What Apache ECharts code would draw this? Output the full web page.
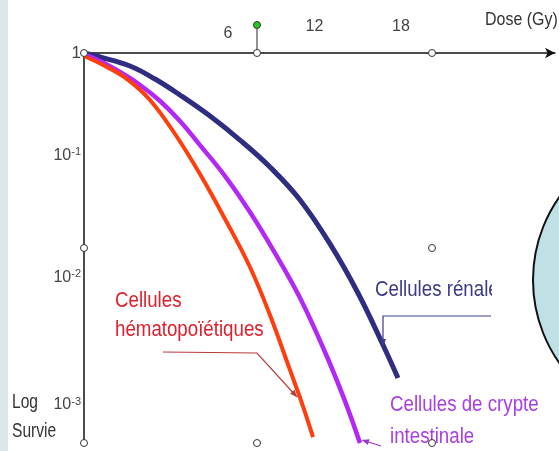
<!DOCTYPE html>
<html><head><meta charset="utf-8">
<script src="https://cdn.jsdelivr.net/npm/echarts@6/dist/echarts.min.js"></script>
<style>html,body{margin:0;padding:0;background:#fff}#c{width:559px;height:451px}</style>
</head><body><div id="c"></div>
<script>
// Dose (Gy) and survival fraction
const doseHemato   = [-4.00, -2.54, -1.01, 0.58, 2.32, 4.05, 5.79, 7.52, 8.91, 10.30, 11.20, 11.90];
const survieHemato = [0.943, 0.775, 0.600, 0.398, 0.204, 0.0930, 0.0385, 0.0150, 0.00585, 0.00199, 0.000980, 0.000533];
const doseCrypte   = [-4.00, -2.89, -1.50, -0.11, 1.28, 2.66, 4.05, 5.79, 7.52, 9.26, 11.00, 12.73, 14.12, 15.16];
const survieCrypte = [0.980, 0.855, 0.689, 0.534, 0.390, 0.263, 0.164, 0.0894, 0.0441, 0.0197, 0.00816, 0.00283, 0.00108, 0.000474];
const doseRenale   = [-4.00, -2.89, -0.81, 0.93, 2.66, 4.75, 6.83, 8.91, 11.00, 13.08, 15.02, 16.76, 17.80];
const survieRenale = [1, 0.924, 0.775, 0.600, 0.439, 0.290, 0.181, 0.1067, 0.0559, 0.0236, 0.00901, 0.00325, 0.00170];

const xTicks = [6, 12, 18];
const xTickLabels = ['6', '12', '18'];
const yTicks = [1, 0.1, 0.01, 0.001];
const yTickLabels = [['1', ''], ['10', '-1'], ['10', '-2'], ['10', '-3']];

const xName = 'Dose (Gy)';
const yName = ['Log', 'Survie'];
const labelHemato = ['Cellules', 'hématopoïétiques'];
const labelRenale = ['Cellules rénale'];
const labelCrypte = ['Cellules de crypte', 'intestinale'];

const pairs = (a, b) => a.map((v, i) => [v, b[i]]);
const FONT = '"Liberation Sans", Arial, sans-serif';
const NARROW = '"Liberation Sans Narrow", "Arial Narrow", "Liberation Sans", Arial, sans-serif';

function txt(s, x, y, size, sx, color) {
  return {type: 'text', x: x, y: y, scaleX: sx, z: 20,
    style: {text: s, fill: color, fontSize: size, fontFamily: FONT, align: 'left', verticalAlign: 'middle'}};
}
function leader(pts, color) {
  const n = pts.length, a = pts[n - 2], b = pts[n - 1];
  const ang = Math.atan2(b[1] - a[1], b[0] - a[0]);
  const L = 7, W = 3;
  const bx = b[0] - L * Math.cos(ang), by = b[1] - L * Math.sin(ang);
  const px = -Math.sin(ang) * W, py = Math.cos(ang) * W;
  return [
    {type: 'polyline', z: 15, shape: {points: pts}, style: {stroke: color, lineWidth: 1.2, fill: null}},
    {type: 'polygon', z: 15, shape: {points: [b, [bx + px, by + py], [bx - px, by - py]]}, style: {fill: color}}
  ];
}
function handle(x, y) {
  return {type: 'circle', z: 30, shape: {cx: x, cy: y, r: 3.5}, style: {fill: '#fff', stroke: '#333', lineWidth: 1}};
}

const chart = echarts.init(document.getElementById('c'));
chart.setOption({
  animation: false,
  backgroundColor: '#fff',
  grid: {left: 84, right: 4, top: 53, bottom: 4.93, containLabel: false, outerBoundsMode: 'none'},
  xAxis: {
    type: 'value', position: 'top', min: -4, max: 28.7, interval: 2,
    axisLine: {onZero: false, lineStyle: {color: '#111', width: 1.5}, symbol: ['none', 'arrow'], symbolSize: [8, 10]},
    axisTick: {show: false}, splitLine: {show: false},
    axisLabel: {
      margin: 11, showMinLabel: false, showMaxLabel: false,
      formatter: v => {
        const i = xTicks.indexOf(Math.round(v * 1000) / 1000);
        if (i < 0) return '';
        return i === 0 ? '{n|' + xTickLabels[i] + '}' : '{n|' + xTickLabels[i] + '}\n{g|}';
      },
      rich: {n: {fontSize: 16, fontFamily: NARROW, color: '#444', lineHeight: 16}, g: {lineHeight: 7, fontSize: 7}}
    }
  },
  yAxis: {
    type: 'log', logBase: 10, min: Math.pow(10, -3.35), max: 1,
    axisLine: {onZero: false, lineStyle: {color: '#111', width: 1.5}},
    axisTick: {show: false}, splitLine: {show: false},
    axisLabel: {
      margin: 3, showMinLabel: false,
      formatter: v => {
        const i = yTicks.findIndex(t => Math.abs(Math.log10(t) - Math.log10(v)) < 1e-6);
        if (i < 0) return '';
        const [b, s] = yTickLabels[i];
        if (!s) return '{one|' + b + '}';
        const gap = i === 1 ? '\n{g1|}' : (i === 2 ? '\n{g2|}' : '');
        return '{b|' + b + '}{s|' + s + '}' + gap;
      },
      rich: {
        one: {fontSize: 17, fontFamily: NARROW, color: '#444', lineHeight: 18},
        b: {fontSize: 16, fontFamily: NARROW, color: '#444', lineHeight: 18},
        s: {fontSize: 11, fontFamily: NARROW, color: '#444', lineHeight: 18, verticalAlign: 'top'},
        g1: {lineHeight: 30, fontSize: 8},
        g2: {lineHeight: 20, fontSize: 8}
      }
    }
  },
  series: [
    {type: 'line', name: labelRenale[0], data: pairs(doseRenale, survieRenale), smooth: 0.4, showSymbol: false,
     lineStyle: {color: '#2e2d82', width: 5}, z: 3},
    {type: 'line', name: labelCrypte.join(' '), data: pairs(doseCrypte, survieCrypte), smooth: 0.4, showSymbol: false,
     lineStyle: {color: '#b328f5', width: 4.5}, z: 4},
    {type: 'line', name: labelHemato.join(' '), data: pairs(doseHemato, survieHemato), smooth: 0.4, showSymbol: false,
     lineStyle: {color: '#ff3d0d', width: 4}, z: 5}
  ],
  graphic: [].concat(
    [{type: 'rect', z: 1, shape: {x: 0, y: 0, width: 8, height: 451}, style: {fill: '#dde7e7'}},
     {type: 'circle', z: 25, shape: {cx: 677, cy: 280, r: 144}, style: {fill: '#bfe1e6', stroke: '#111', lineWidth: 2}},
     txt(xName, 485, 20, 19, 0.84, '#333'),
     txt(yName[0], 12, 402, 20, 0.78, '#333'),
     txt(yName[1], 12, 431, 20, 0.78, '#333'),
     txt(labelHemato[0], 115, 301, 22, 0.85, '#e0202c'),
     txt(labelHemato[1], 115, 330, 22, 0.85, '#e0202c'),
     txt(labelRenale[0], 375, 290, 22, 0.85, '#3b3a8a'),
     {type: 'rect', z: 21, shape: {x: 492, y: 270, width: 38, height: 55}, style: {fill: '#fff'}},
     txt(labelCrypte[0], 390, 405, 22, 0.85, '#a83ee6'),
     txt(labelCrypte[1], 390, 437, 22, 0.85, '#a83ee6'),
     {type: 'line', z: 29, shape: {x1: 257, y1: 29, x2: 257, y2: 50}, style: {stroke: '#222', lineWidth: 1}},
     {type: 'circle', z: 30, shape: {cx: 257, cy: 25, r: 3.5}, style: {fill: '#22cc22', stroke: '#333', lineWidth: 1}}
    ],
    leader([[163, 352], [257, 353], [297, 397]], '#b83a3a'),
    leader([[491, 316], [383, 316], [383, 346]], '#3b3a8a'),
    leader([[381, 446], [362, 440]], '#9a35d0'),
    [handle(84, 53), handle(257, 53), handle(432, 53), handle(84, 248), handle(432, 248),
     handle(84, 443), handle(257, 443), handle(432, 443)]
  )
});
</script></body></html>
